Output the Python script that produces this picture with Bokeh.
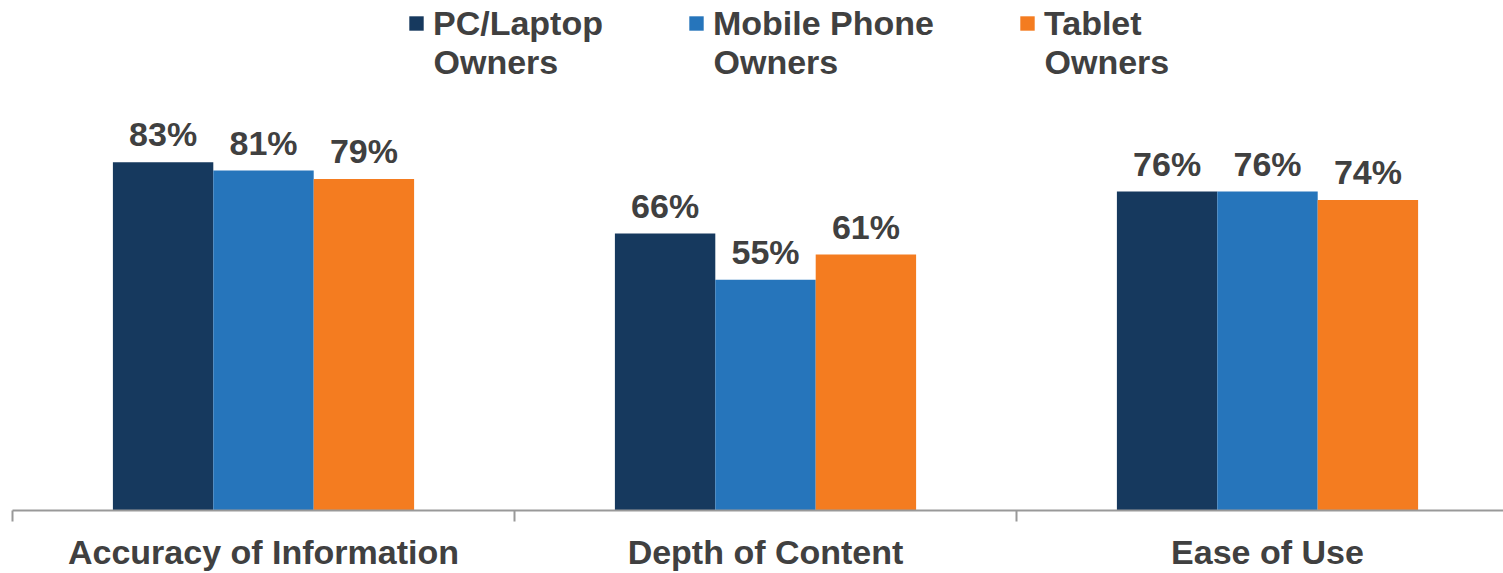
import numpy as np
from bokeh.plotting import figure
from bokeh.models import (ColumnDataSource, LabelSet, Label, Legend, LegendItem,
                          FixedTicker, Range1d)
from bokeh.core.properties import value
from bokeh.embed import file_html
from bokeh.resources import INLINE

categories = ["Accuracy of Information", "Depth of Content", "Ease of Use"]
series_line1 = ["PC/Laptop", "Mobile Phone", "Tablet"]
series_line2 = ["Owners", "Owners", "Owners"]
pc_laptop = [83, 66, 76]
mobile_phone = [81, 55, 76]
tablet = [79, 61, 74]
colors = ["#16395E", "#2675BB", "#F47C20"]

FONT = "Liberation Sans"
TXT = "#404040"
FS = "34px"

p = figure(width=1503, height=573, output_backend="svg", toolbar_location=None,
           x_range=Range1d(0, 1491 / 502), y_range=Range1d(0, 512 / 4.213),
           min_border_left=12, min_border_right=0, min_border_top=0,
           min_border_bottom=61, y_axis_location=None)
p.outline_line_color = None
p.xgrid.visible = False
p.ygrid.visible = False
p.background_fill_color = "white"
p.border_fill_color = "white"

centers = np.arange(len(categories)) + 0.5
offsets = [-0.2, 0.0, 0.2]
renderers = []
for vals, off, col in zip([pc_laptop, mobile_phone, tablet], offsets, colors):
    src = ColumnDataSource(dict(x=centers + off, top=vals,
                                lab=[f"{v}%" for v in vals]))
    r = p.vbar(x="x", top="top", width=0.2, bottom=0, source=src,
               fill_color=col, line_color=None)
    renderers.append(r)
    p.add_layout(LabelSet(x="x", y="top", text="lab", source=src,
                          text_align="center", text_baseline="alphabetic",
                          y_offset=16, text_font=value(FONT),
                          text_font_style="bold",
                          text_font_size=value(FS), text_color=TXT))

ax = p.xaxis[0]
ax.ticker = FixedTicker(ticks=list(centers),
                        minor_ticks=list(np.arange(len(categories) + 1)))
ax.major_label_overrides = {float(c): n for c, n in zip(centers, categories)}
ax.axis_line_color = "#999999"
ax.axis_line_width = 2
ax.major_tick_line_color = None
ax.major_tick_out = 0
ax.major_tick_in = 0
ax.minor_tick_line_color = "#999999"
ax.minor_tick_line_width = 2
ax.minor_tick_out = 11
ax.minor_tick_in = 0
ax.major_label_standoff = 11
ax.major_label_text_font = FONT
ax.major_label_text_font_style = "bold"
ax.major_label_text_font_size = FS
ax.major_label_text_color = TXT

legend = Legend(items=[LegendItem(label=n, renderers=[r])
                       for n, r in zip(series_line1, renderers)],
                orientation="horizontal", location=(395, 467),
                glyph_width=18, glyph_height=18, label_standoff=8,
                label_height=40, spacing=84, padding=0, margin=0,
                border_line_color=None, background_fill_alpha=0,
                label_text_font=FONT, label_text_font_style="bold",
                label_text_font_size=FS, label_text_color=TXT)
p.add_layout(legend)

# second line of each legend label
for xs, t in zip([421, 701, 1032], series_line2):
    p.add_layout(Label(x=xs, y=449, x_units="screen", y_units="screen", text=t,
                       text_baseline="alphabetic", text_font=FONT,
                       text_font_style="bold", text_font_size=FS,
                       text_color=TXT))

open("out.html", "w").write(file_html(p, INLINE))
